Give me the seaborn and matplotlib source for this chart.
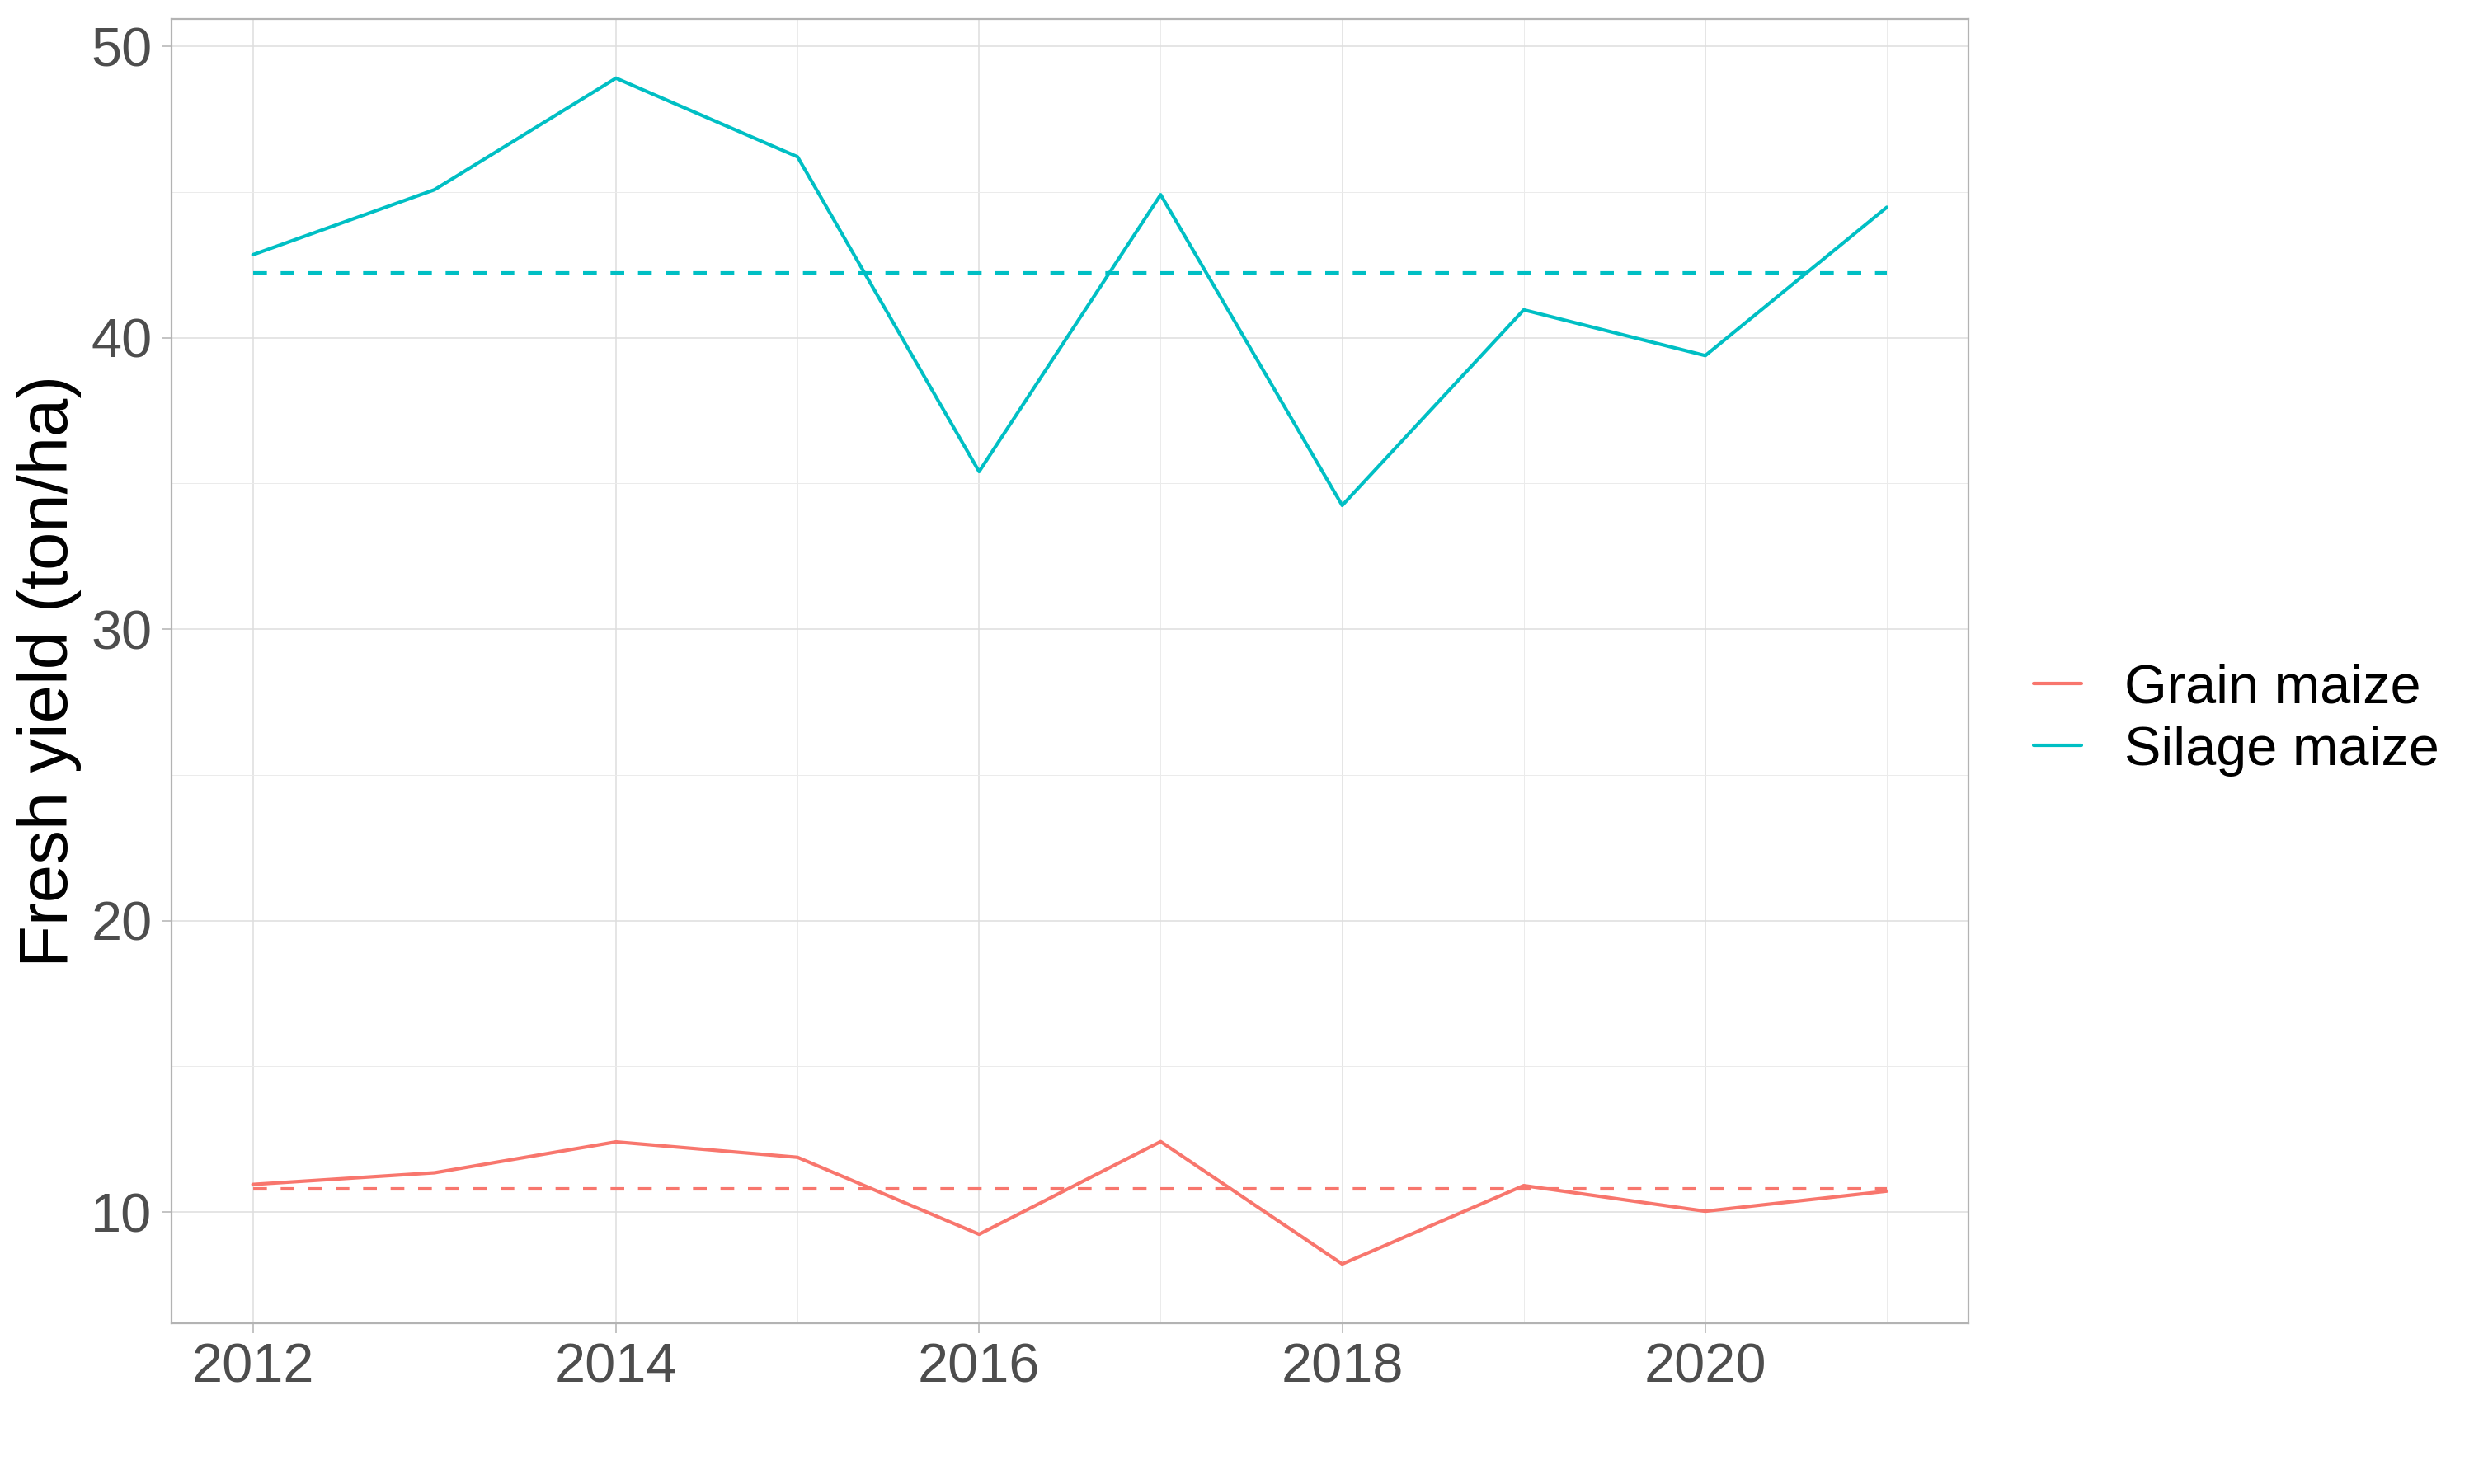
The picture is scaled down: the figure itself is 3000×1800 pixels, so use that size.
import matplotlib
matplotlib.use("Agg")
import matplotlib.pyplot as plt
from matplotlib.ticker import MultipleLocator
import seaborn as sns
import pandas as pd

years = [2012, 2013, 2014, 2015, 2016, 2017, 2018, 2019, 2020, 2021]
grain = [10.95, 11.35, 12.41, 11.88, 9.24, 12.42, 8.22, 10.91, 10.03, 10.72]
silage = [42.85, 45.08, 48.91, 46.21, 35.41, 44.91, 34.25, 40.96, 39.39, 44.48]
grain_mean = 10.81
silage_mean = 42.24
crops = ["Grain maize", "Silage maize"]

GRAIN_COLOR = "#F8766D"
SILAGE_COLOR = "#00BFC4"
palette = {crops[0]: GRAIN_COLOR, crops[1]: SILAGE_COLOR}

df = pd.DataFrame({
    "year": years * 2,
    "yield": grain + silage,
    "crop": [crops[0]] * len(years) + [crops[1]] * len(years),
})
mean_df = pd.DataFrame({
    "year": years * 2,
    "yield": [grain_mean] * len(years) + [silage_mean] * len(years),
    "crop": [crops[0]] * len(years) + [crops[1]] * len(years),
})

sns.set_theme(style="white")
plt.rcParams["font.family"] = ["Liberation Sans", "DejaVu Sans"]

fig = plt.figure(figsize=(15, 9), dpi=200)
ax = fig.add_axes([0.0692, 0.1083, 0.7265, 0.879])

sns.lineplot(data=mean_df, x="year", y="yield", hue="crop", palette=palette,
             ax=ax, legend=False, linewidth=1.5, linestyle=(0, (4, 4)))
sns.lineplot(data=df, x="year", y="yield", hue="crop", palette=palette,
             ax=ax, linewidth=1.5)

# ggplot-ish light theme
ax.set_xlim(2012 - 0.45, 2021 + 0.45)
lo, hi = min(grain + silage), max(grain + silage)
pad = (hi - lo) * 0.05
ax.set_ylim(lo - pad, hi + pad)
ax.xaxis.set_major_locator(MultipleLocator(2))
ax.xaxis.set_minor_locator(MultipleLocator(1))
ax.yaxis.set_major_locator(MultipleLocator(10))
ax.yaxis.set_minor_locator(MultipleLocator(5))
ax.grid(which="major", color="#DEDEDE", linewidth=0.55)
ax.grid(which="minor", color="#EBEBEB", linewidth=0.35)
ax.set_axisbelow(True)
for s in ax.spines.values():
    s.set_color("#B3B3B3")
    s.set_linewidth(0.8)
ax.tick_params(which="major", length=4.3, width=0.55, color="#B3B3B3",
               labelsize=24, labelcolor="#4D4D4D", pad=4, bottom=True, left=True)
ax.tick_params(which="minor", length=0, bottom=False, left=False)
ax.set_xlabel("")
ax.set_ylabel("Fresh yield (ton/ha)", fontsize=30, color="black", labelpad=4)

handles, labels = ax.get_legend_handles_labels()
leg = ax.legend(handles, labels, loc="center left", bbox_to_anchor=(0.822, 0.515),
                bbox_transform=fig.transFigure, frameon=False, fontsize=24,
                handlelength=0.87, handletextpad=0.78, labelspacing=0.2,
                borderpad=0, borderaxespad=0)
for t in leg.get_texts():
    t.set_color("black")

fig.savefig("out.png", dpi=200)
